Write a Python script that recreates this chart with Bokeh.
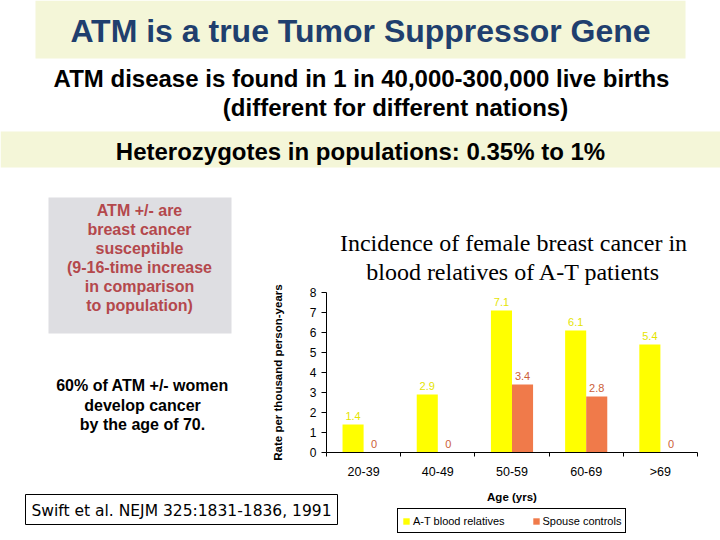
from bokeh.plotting import figure
from bokeh.models import (ColumnDataSource, Range1d, Label, LinearAxis,
                          Legend, LegendItem, FixedTicker)
from bokeh.transform import dodge
from bokeh.core.properties import value
from bokeh.embed import file_html
from bokeh.resources import INLINE

# ---------------- data ----------------
age_groups = ["20-39", "40-49", "50-59", "60-69", ">69"]
at_relatives = [1.4, 2.9, 7.1, 6.1, 5.4]
spouse_controls = [0, 0, 3.4, 2.8, 0]
at_labels = ["1.4", "2.9", "7.1", "6.1", "5.4"]
spouse_labels = ["0", "0", "3.4", "2.8", "0"]
y_ticks = [0, 1, 2, 3, 4, 5, 6, 7, 8]
series_names = ["A-T blood relatives", "Spouse controls"]

YELLOW = "#FFFF00"
ORANGE = "#F07A4A"

# ---------------- page layout (pixels) ----------------
W, H = 720, 540
AX_LEFT, AX_RIGHT = 326, 697     # chart frame left / right
AX_TOP, AX_BOTTOM = 292, 452     # chart frame top / bottom

n = len(age_groups)
ymax = y_ticks[-1]
ppx = (AX_RIGHT - AX_LEFT) / n
ppy = (AX_BOTTOM - AX_TOP) / ymax
centers = [i + 0.5 for i in range(n)]

p = figure(width=W, height=H, title=None,
           x_range=Range1d(0, W), y_range=Range1d(H, 0),
           x_axis_type=None, y_axis_type=None,
           output_backend="svg", toolbar_location=None, min_border=0)
p.outline_line_color = None
p.grid.visible = False
p.background_fill_color = "white"
p.border_fill_color = "white"

p.extra_x_ranges = {"cat": Range1d(-AX_LEFT / ppx, n + (W - AX_RIGHT) / ppx)}
p.extra_y_ranges = {"val": Range1d(-(H - AX_BOTTOM) / ppy, ymax + AX_TOP / ppy)}

# ---------------- slide decorations ----------------
def add_box(x0, y0, x1, y1, fill, line=None):
    p.quad(left=[x0], right=[x1], top=[y0], bottom=[y1], fill_color=fill,
           line_color=line if line else None, line_width=1)


def add_text(txt, x, y, size, color="#000000", bold=True, font="Liberation Sans"):
    p.add_layout(Label(x=x, y=y, text=txt, text_align="center", text_baseline="middle",
                       text_font=font, text_font_size=f"{size}px",
                       text_font_style="bold" if bold else "normal", text_color=color))


add_box(35, 0, 685, 58, "#F4F6D8")
add_box(0, 131, 720, 167, "#F4F6D8")
add_box(48, 197, 231, 333, "#DEDEE2")
add_box(25, 494, 337, 524, "#FFFFFF", "#000000")

add_text("ATM is a true Tumor Suppressor Gene", 360, 30, 32, "#1F3F6E")
add_text("ATM disease is found in 1 in 40,000-300,000 live births", 361, 78, 24)
add_text("(different for different nations)", 395, 107, 24)
add_text("Heterozygotes in populations: 0.35% to 1%", 360, 151, 24)

for txt, yy in zip(["ATM +/- are", "breast cancer", "susceptible", "(9-16-time increase",
                    "in comparison", "to population)"], [210, 229, 248, 267, 286, 305]):
    add_text(txt, 139, yy, 16, "#B4484C")

for txt, yy in zip(["60% of ATM +/- women", "develop cancer", "by the age of 70."],
                   [385, 405, 424]):
    add_text(txt, 142, yy, 16)

add_text("Swift et al. NEJM 325:1831-1836, 1991", 181, 510, 15.5, bold=False, font="DejaVu Sans")

add_text("Incidence of female breast cancer in", 513, 242, 24, bold=False, font="Liberation Serif")
add_text("blood relatives of A-T patients", 513, 271, 24, bold=False, font="Liberation Serif")

# ---------------- bar chart ----------------
src = ColumnDataSource(dict(xc=centers, at=at_relatives, sp=spouse_controls,
                            at_lbl=at_labels, sp_lbl=spouse_labels))
BW = 0.284
r1 = p.vbar(x=dodge("xc", -BW / 2), top="at", width=BW, source=src,
            fill_color=YELLOW, line_color=None, x_range_name="cat", y_range_name="val")
r2 = p.vbar(x=dodge("xc", BW / 2), top="sp", width=BW, source=src,
            fill_color=ORANGE, line_color=None, x_range_name="cat", y_range_name="val")

p.text(x=dodge("xc", -BW / 2), y="at", text="at_lbl", source=src,
       x_range_name="cat", y_range_name="val",
       text_align="center", text_baseline="bottom", y_offset=-5,
       text_font=value("Liberation Sans"), text_font_size="11px", text_color="#E4E400")
p.text(x=dodge("xc", BW / 2), y="sp", text="sp_lbl", source=src,
       x_range_name="cat", y_range_name="val",
       text_align="center", text_baseline="bottom", y_offset=-5,
       text_font=value("Liberation Sans"), text_font_size="11px", text_color="#CC6038")

# y axis
yax = LinearAxis(y_range_name="val", fixed_location=AX_LEFT, bounds=(0, ymax),
                 ticker=FixedTicker(ticks=y_ticks))
yax.major_tick_out = 5
yax.major_tick_in = 0
yax.minor_tick_out = 0
yax.minor_tick_in = 0
yax.axis_line_color = "#000000"
yax.major_tick_line_color = "#000000"
yax.major_label_text_font = "Liberation Sans"
yax.major_label_text_font_size = "12px"
yax.major_label_text_color = "#000000"
yax.axis_label = "Rate per thousand person-years"
yax.axis_label_text_font = "Liberation Sans"
yax.axis_label_text_font_size = "11.5px"
yax.axis_label_text_font_style = "bold"
yax.axis_label_text_color = "#000000"
yax.axis_label_standoff = 23
p.add_layout(yax, "left")

# x axis (categories at the centres, tick marks at the category boundaries)
xax = LinearAxis(x_range_name="cat", fixed_location=AX_BOTTOM, bounds=(0, n),
                 ticker=FixedTicker(ticks=centers, minor_ticks=list(range(n + 1))),
                 major_label_overrides={c: g for c, g in zip(centers, age_groups)})
xax.major_tick_line_color = None
xax.major_tick_out = 0
xax.major_tick_in = 0
xax.minor_tick_out = 4
xax.minor_tick_in = 0
xax.minor_tick_line_color = "#000000"
xax.axis_line_color = "#000000"
xax.major_label_text_font = "Liberation Sans"
xax.major_label_text_font_size = "12.5px"
xax.major_label_text_color = "#000000"
xax.major_label_standoff = 8
xax.axis_label = "Age (yrs)"
xax.axis_label_text_font = "Liberation Sans"
xax.axis_label_text_font_size = "11.5px"
xax.axis_label_text_font_style = "bold"
xax.axis_label_text_color = "#000000"
xax.axis_label_standoff = 9
p.add_layout(xax, "below")

legend = Legend(items=[LegendItem(label=series_names[0], renderers=[r1]),
                       LegendItem(label=series_names[1], renderers=[r2])],
                orientation="horizontal", location=(397, H - 533),
                border_line_color="#000000", border_line_width=1, border_line_alpha=1,
                background_fill_color="white", background_fill_alpha=1,
                label_text_font="Liberation Sans", label_text_font_size="11px",
                label_text_color="#000000",
                glyph_width=8, glyph_height=8, label_height=15, label_standoff=3,
                padding=4, spacing=27, margin=0)
p.add_layout(legend, "center")

open("out.html", "w").write(file_html(p, INLINE))
